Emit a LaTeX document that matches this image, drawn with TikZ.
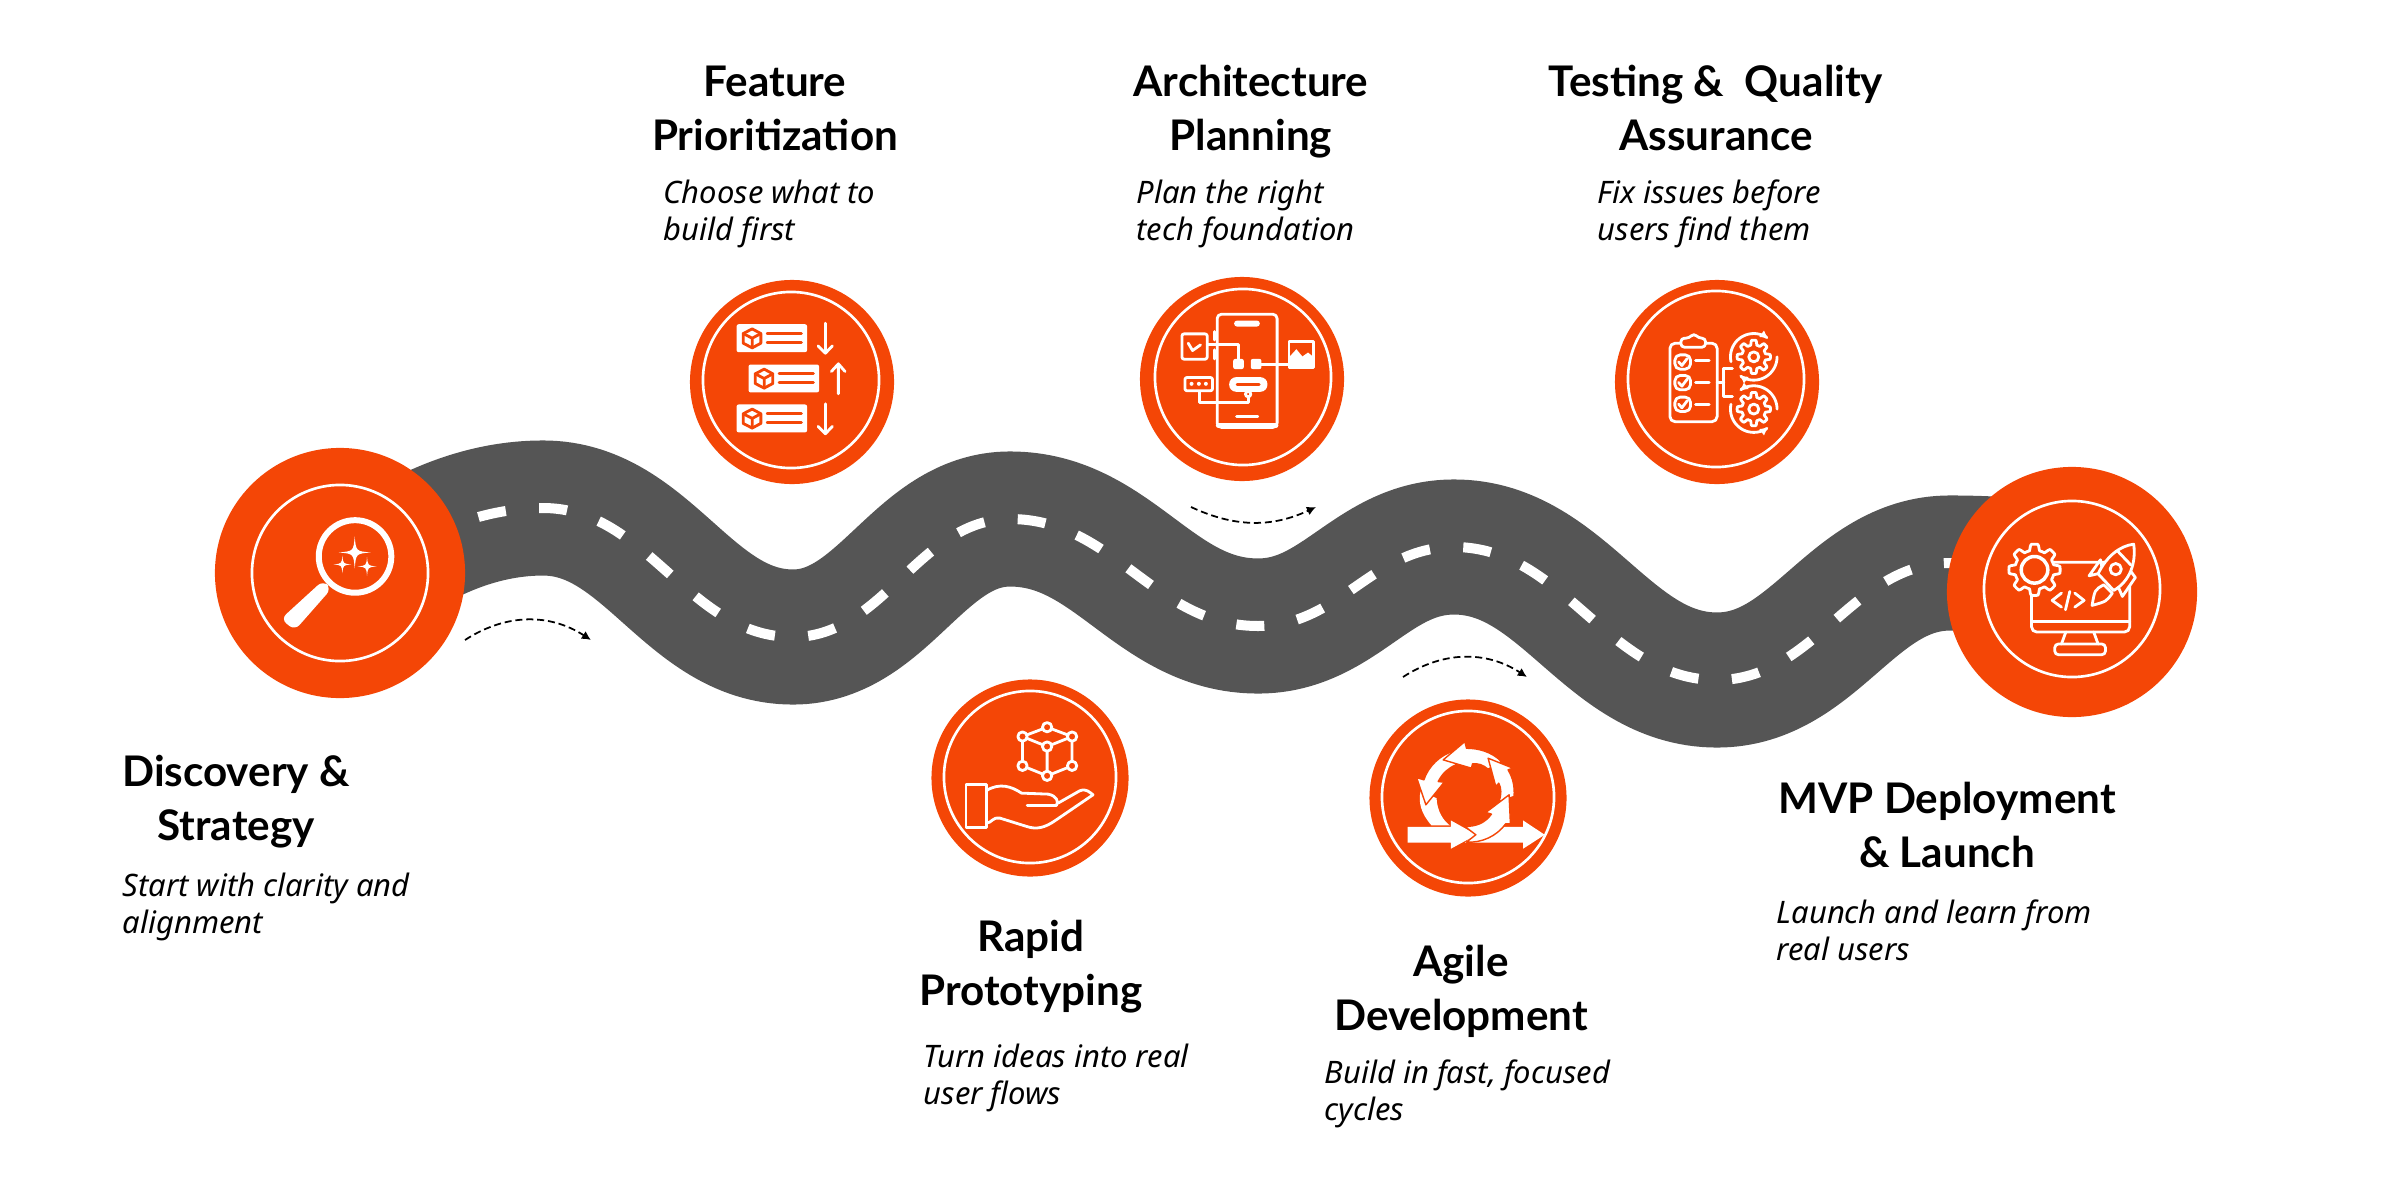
\documentclass[tikz,border=0pt]{standalone}
\usepackage{fontspec}
\usepackage{xcolor}
\setmainfont{Noto Sans}
\newfontfamily\headfont{Lato}
\usetikzlibrary{arrows.meta}
\definecolor{roadgray}{HTML}{555555}
\definecolor{flame}{HTML}{F44606}

\newcommand\roadline{(380,565) .. controls (430,530) and (485,508) .. (543,508) .. controls (648,508) and (688,637) .. (793,637) .. controls (884,637) and (919,519) .. (1010,519) .. controls (1114,519) and (1154,626) .. (1258,626) .. controls (1340,626) and (1372,547) .. (1454,547) .. controls (1564,547) and (1607,680) .. (1717,680) .. controls (1815,680) and (1852,563) .. (1950,563) .. controls (1985,563) and (2020,565) .. (2050,570)}
\newcommand\sparkle[3]{\fill[white] (#1,#2-#3) .. controls (#1+0.08*#3,#2-0.08*#3) .. (#1+#3,#2) .. controls (#1+0.08*#3,#2+0.08*#3) .. (#1,#2+#3) .. controls (#1-0.08*#3,#2+0.08*#3) .. (#1-#3,#2) .. controls (#1-0.08*#3,#2-0.08*#3) .. cycle;}
\newcommand\gearwheel[4]{\draw[icon,fill=flame,shift={(#1,#2)}] plot[domain=0:360,samples=145] (\x:{#3+#4*max(-1,min(1,2.5*cos(8*\x)))}) -- cycle;}

\tikzset{
  disc/.style={circle,fill=flame,inner sep=0pt,minimum size=#1},
  ring/.style={circle,draw=white,line width=0.75pt,inner sep=0pt,minimum size=#1},
  title/.style={align=center,inner sep=0pt,text height=9pt,text depth=2.5pt,font=\fontsize{12}{15.4}\selectfont\headfont\bfseries},
  blurb/.style={align=left,anchor=west,inner sep=0pt,text height=6.5pt,text depth=2pt,font=\fontsize{8.8}{10.6}\selectfont\itshape},
  flow/.style={black,line width=0.5pt,dash pattern=on 2pt off 1.1pt,-{Latex[length=2.6pt,width=2.6pt]}},
  iconat/.style={shift={#1},x=0.003333cm,y=-0.003333cm},
  icon/.style={white,line width=0.8pt,line join=round,line cap=round},
  cutline/.style={flame,line width=0.8pt,line join=round,line cap=round},
  iconfill/.style={fill=white,rounded corners=0.6pt}
}

\begin{document}
\begin{tikzpicture}[x=0.01cm,y=-0.01cm]
\useasboundingbox (0,0) rectangle (2400,1200);

\draw[roadgray,line width=1.35cm] \roadline;
\draw[white,line width=0.1cm,dash pattern=on 0.28cm off 0.335cm,dash phase=0.13cm] \roadline;

\node[disc=2.5cm] (discovery) at (340,573) {};
\node[ring=1.76cm] (discoveryring) at (340,573) {};
\node[disc=2.04cm] (feature) at (792,382) {};
\node[ring=1.76cm] (featurering) at (791,380) {};
\node[disc=2.04cm] (architecture) at (1242,379) {};
\node[ring=1.76cm] (architecturering) at (1243,377) {};
\node[disc=2.04cm] (testing) at (1717,382) {};
\node[ring=1.76cm] (testingring) at (1716,379) {};
\node[disc=2.5cm] (mvp) at (2072,592) {};
\node[ring=1.76cm] (mvpring) at (2072,589) {};
\node[disc=1.97cm] (rapid) at (1030,778) {};
\node[ring=1.72cm] (rapidring) at (1030,777) {};
\node[disc=1.97cm] (agile) at (1468,798) {};
\node[ring=1.72cm] (agilering) at (1468,797) {};

\begin{scope}[iconat={(180,420)}]
\draw[white,line width=1.7pt] (526,410) circle (109);
\fill[white,rounded corners=2pt] (430,482) -- (455,507) -- (345,632) -- (303,598) -- cycle;
\sparkle{525}{398}{48}
\sparkle{488}{434}{27}
\sparkle{562}{440}{29}
\end{scope}

\begin{scope}[iconat={(660,260)}]
\foreach \cx/\cy in {230/193,266/314,230/434} {
  \begin{scope}[shift={(\cx,\cy)}]
  \fill[iconfill] (0,0) rectangle (212,84);
  \draw[cutline] (47,14) -- (73,28) -- (73,57) -- (47,71) -- (20,57) -- (20,28) -- cycle;
  \draw[cutline] (20,28) -- (47,42) -- (73,28) (47,42) -- (47,71);
  \draw[cutline] (92,27) -- (195,27) (92,55) -- (195,55);
  \end{scope}
}
\draw[icon] (497,190) -- (497,280) (475,258) -- (497,280) -- (518,258);
\draw[icon] (536,402) -- (536,312) (515,335) -- (536,312) -- (556,335);
\draw[icon] (497,432) -- (497,522) (475,500) -- (497,522) -- (518,500);
\end{scope}

\begin{scope}[iconat={(1120,260)}]
\draw[icon,rounded corners=1.2pt] (292,163) rectangle (472,503);
\draw[icon,line width=1.5pt] (296,497) -- (468,497);
\draw[icon] (350,470) -- (414,470);
\fill[white,rounded corners=0.8pt] (343,182) rectangle (420,200);
\draw[icon] (285,215) -- (285,240) (285,270) -- (285,297);
\draw[icon,fill=flame,rounded corners=0.6pt] (186,222) rectangle (262,298);
\draw[icon] (205,250) -- (218,272) -- (242,255);
\draw[icon] (262,255) -- (356,255) -- (356,298);
\fill[iconfill] (340,297) rectangle (372,328);
\fill[iconfill] (393,297) rectangle (425,328);
\draw[icon] (425,313) -- (508,313);
\draw[icon] (508,246) rectangle (582,322);
\fill[white] (508,322) -- (510,290) -- (530,268) -- (548,290) -- (565,278) -- (582,292) -- (582,322) -- cycle;
\fill[white,rounded corners=2pt] (328,352) rectangle (443,396);
\draw[cutline] (352,373) -- (418,373);
\draw[icon,fill=flame] (385,403) circle (8);
\draw[icon] (385,411) -- (385,428) -- (238,428) -- (238,393);
\draw[icon,rounded corners=0.6pt,fill=flame] (195,353) rectangle (278,393);
\foreach \dotx in {215,237,258} {
  \fill[white] (\dotx,372) circle (6);
}
\end{scope}

\begin{scope}[iconat={(1600,260)}]
\draw[icon,rounded corners=1.5pt] (210,250) rectangle (352,486);
\draw[icon,fill=flame,rounded corners=1pt] (243,262) -- (243,235) -- (268,235) -- (282,220) -- (296,235) -- (317,235) -- (317,262) -- cycle;
\foreach \by/\ly in {285/303,347/367,412/433} {
  \draw[icon,rounded corners=1.5pt] (225,\by) rectangle (272,\by+43);
  \draw[icon] (236,\by+21) -- (246,\by+32) -- (262,\by+11);
  \draw[icon] (287,\ly) -- (328,\ly);
}
\draw[icon] (352,367) -- (372,367) (398,327) -- (372,327) -- (372,410) -- (398,410);
\gearwheel{462}{291}{43}{7}
\gearwheel{462}{448}{43}{7}
\draw[icon] (462,291) circle (15) (462,448) circle (15);
\draw[icon,-{Latex[length=2.4pt,width=2.4pt]},shift={(462,291)}] plot[domain=168:309,samples=30] (\x:70);
\draw[icon,-{Latex[length=2.4pt,width=2.4pt]},shift={(462,291)}] plot[domain=0:128,samples=30] (\x:70);
\draw[icon,-{Latex[length=2.4pt,width=2.4pt]},shift={(462,448)}] plot[domain=0:-128,samples=30] (\x:70);
\draw[icon,-{Latex[length=2.4pt,width=2.4pt]},shift={(462,448)}] plot[domain=-168:-309,samples=30] (\x:70);
\end{scope}

\begin{scope}[iconat={(1930,450)}]
\draw[icon,rounded corners=1.5pt] (305,337) rectangle (600,547);
\draw[icon] (305,515) -- (600,515);
\draw[icon] (408,547) -- (395,583) (492,547) -- (505,583);
\draw[icon,rounded corners=1pt] (375,583) rectangle (527,615);
\gearwheel{314}{360}{68}{9}
\draw[icon,line width=1pt] (314,360) circle (40);
\draw[icon] (395,430) -- (367,452) -- (395,472) (435,430) -- (463,452) -- (435,472) (420,425) -- (407,480);
\draw[icon,fill=flame] (512,330) -- (478,378) -- (520,368) -- cycle;
\draw[icon,fill=flame] (600,360) -- (617,383) -- (578,440) -- (565,410) -- cycle;
\draw[icon,fill=flame] (522,405) .. controls (495,420) .. (487,467) .. controls (530,455) .. (548,430) -- cycle;
\draw[icon,fill=flame] (612,283) .. controls (570,288) and (530,320) .. (505,372) -- (552,422) .. controls (600,395) and (620,340) .. cycle;
\draw[icon] (565,305) -- (603,345);
\draw[icon] (558,358) circle (17);
\end{scope}

\begin{scope}[iconat={(910,660)}]
\draw[icon] (412,202) -- (338,230) -- (412,260) -- (487,230) -- cycle;
\draw[icon] (338,230) -- (338,318) -- (412,348) -- (487,318) -- (487,230) (412,260) -- (412,348);
\foreach \px/\py in {412/202,338/230,487/230,412/260,338/318,487/318,412/348} {
  \draw[icon,fill=flame] (\px,\py) circle (14);
}
\draw[icon] (168,375) rectangle (230,503);
\draw[icon] (230,392) .. controls (270,368) and (305,380) .. (335,400) -- (415,403) .. controls (440,408) and (448,425) .. (440,437) -- (352,437);
\draw[icon] (445,430) -- (510,393) .. controls (530,385) and (540,398) .. (550,405) -- (440,480) .. controls (405,505) and (380,510) .. (350,500) -- (270,475) .. controls (250,470) and (245,490) .. (230,490);
\end{scope}

\begin{scope}[iconat={(1350,680)}]
\fill[white] (173,441) -- (303,441) -- (303,422) -- (380,465) -- (303,507) -- (303,489) -- (173,489) -- cycle;
\fill[white] (400,441) -- (520,441) -- (520,422) -- (585,465) -- (520,507) -- (520,489) -- (345,489) -- cycle;
\fill[white] (245,437) .. controls (212,400) and (205,365) .. (212,335) -- (260,355) .. controls (262,395) and (280,422) .. (300,437) -- cycle;
\draw[cutline,line width=0.4pt,fill=white] (315,212) .. controls (270,225) and (235,260) .. (222,300) -- (200,293) -- (228,375) -- (283,307) -- (265,305) .. controls (278,280) and (295,265) .. (318,255) -- cycle;
\draw[cutline,line width=0.4pt,fill=white] (455,245) .. controls (425,215) and (385,205) .. (350,205) -- (345,185) -- (280,240) -- (365,265) -- (368,252) .. controls (385,250) and (400,255) .. (415,268) -- cycle;
\draw[cutline,line width=0.4pt,fill=white] (493,350) .. controls (495,320) and (490,295) .. (475,270) -- (490,265) -- (415,235) -- (438,320) -- (447,310) .. controls (455,325) and (455,345) .. (448,365) -- cycle;
\draw[cutline,line width=0.4pt,fill=white] (350,487) .. controls (395,490) and (440,470) .. (468,432) -- (482,432) -- (478,345) -- (408,398) -- (425,403) .. controls (405,430) and (380,440) .. (345,440) -- (378,465) -- cycle;
\end{scope}

\coordinate (flowAstart) at (465,640);
\coordinate (flowAend) at (591,640);
\coordinate (flowBstart) at (1191,507);
\coordinate (flowBend) at (1316,507);
\coordinate (flowCstart) at (1403,677);
\coordinate (flowCend) at (1527,677);
\draw[flow] (flowAstart) to[out=33,in=147] (flowAend);
\draw[flow] (flowBstart) to[out=-25,in=-155] (flowBend);
\draw[flow] (flowCstart) to[out=33,in=147] (flowCend);

\node[title] (discoverytitle) at (236,829) {Discovery \&\\Strategy};
\node[blurb] (discoveryblurb) at (122,926) {Start with clarity and\\alignment};
\node[title] (featuretitle) at (775,139) {Feature\\Prioritization};
\node[blurb] (featureblurb) at (663,233) {Choose what to\\build first};
\node[title] (architecturetitle) at (1251,139) {Architecture\\Planning};
\node[blurb] (architectureblurb) at (1136,233) {Plan the right\\tech foundation};
\node[title] (testingtitle) at (1716,139) {Testing \&\ \ Quality\\Assurance};
\node[blurb] (testingblurb) at (1597,233) {Fix issues before\\users find them};
\node[title] (rapidtitle) at (1031,994) {Rapid\\Prototyping};
\node[blurb] (rapidblurb) at (923,1097) {Turn ideas into real\\user flows};
\node[title] (agiletitle) at (1461,1019) {Agile\\Development};
\node[blurb] (agileblurb) at (1324,1113) {Build in fast, focused\\cycles};
\node[title] (mvptitle) at (1947,856) {MVP Deployment\\\& Launch};
\node[blurb] (mvpblurb) at (1776,953) {Launch and learn from\\real users};

\end{tikzpicture}
\end{document}
